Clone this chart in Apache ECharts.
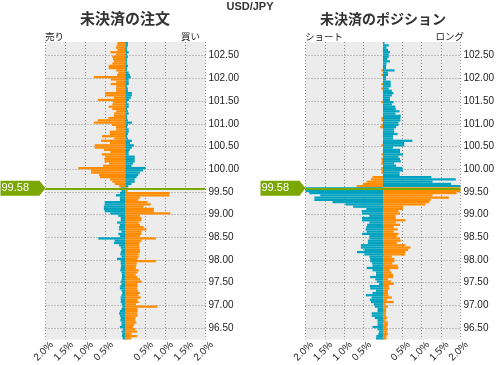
<!DOCTYPE html>
<html><head><meta charset="utf-8">
<script src="https://cdn.jsdelivr.net/npm/echarts@6/dist/echarts.min.js"></script>
<style>html,body{margin:0;padding:0;background:#fff}#c{width:497px;height:365px}</style>
</head><body><div id="c"></div>
<script>
// ---- data ----
const pairName = 'USD/JPY';
const priceNow = 99.58;
const step = 0.05;
// price buckets (lower bound), top to bottom: 102.75 ... 96.25
const levels = [];
for (let i = 0; i < 131; i++) levels.push(((10275 - 5 * i) / 100).toFixed(2));
const yTickLabels = ['102.50','102.00','101.50','101.00','100.50','100.00','99.50','99.00','98.50','98.00','97.50','97.00','96.50'];
const xTicks = [-2, -1.5, -1, -0.5, 0, 0.5, 1, 1.5, 2];

// open orders (% , top to bottom)
const ordersSell = [
0.20,0.22,0.24,0.20,0.38,0.24,0.33,0.31,0.29,0.33,
0.42,0.42,0.23,0.18,0.21,0.79,0.37,0.23,0.37,0.23,
0.24,0.23,0.51,0.51,0.29,0.69,0.31,0.33,0.42,0.33,
0.23,0.29,0.29,0.43,0.69,0.79,0.34,0.24,0.23,0.39,
0.39,0.59,0.28,0.61,0.39,0.77,0.77,0.54,0.38,0.59,
0.51,0.53,0.52,0.41,0.56,1.18,0.86,0.86,0.66,0.64,
0.39,0.33,0.27,0.16,0.12,0.10,0.14,0.24,0.14,0.14,
0.52,0.52,0.54,0.54,0.52,0.38,0.18,0.12,0.12,0.21,
0.14,0.16,0.16,0.10,0.18,0.14,0.68,0.27,0.29,0.16,
0.12,0.10,0.12,0.13,0.10,0.21,0.12,0.12,0.11,0.12,
0.13,0.10,0.09,0.09,0.10,0.12,0.10,0.13,0.14,0.10,
0.08,0.10,0.12,0.12,0.12,0.09,0.08,0.10,0.14,0.16,
0.14,0.12,0.13,0.10,0.10,0.14,0.07,0.10,0.08,0.09,0.07];
const ordersBuy = [
0.06,0.06,0.04,0.04,0.08,0.04,0.06,0.04,0.04,0.04,
0.06,0.04,0.04,0.08,0.11,0.13,0.08,0.08,0.08,0.04,
0.06,0.06,0.16,0.16,0.13,0.09,0.04,0.08,0.08,0.04,
0.06,0.08,0.04,0.04,0.06,0.16,0.06,0.04,0.08,0.08,
0.06,0.04,0.06,0.16,0.11,0.21,0.16,0.11,0.08,0.08,
0.23,0.23,0.23,0.19,0.15,0.50,0.44,0.36,0.32,0.28,
0.23,0.23,0.15,0.07,0.05,0.05,1.10,1.10,0.36,0.32,
0.55,0.63,0.45,0.71,0.71,1.12,0.36,0.40,0.40,0.33,
0.36,0.45,0.52,0.40,0.40,0.36,0.76,0.40,0.35,0.34,
0.35,0.36,0.36,0.33,0.33,0.30,0.76,0.28,0.27,0.26,
0.33,0.30,0.25,0.30,0.36,0.40,0.30,0.30,0.29,0.31,
0.36,0.32,0.38,0.30,0.33,0.26,0.80,0.30,0.30,0.29,
0.30,0.25,0.24,0.27,0.22,0.19,0.24,0.29,0.15,0.29,0.14];

// open positions (% , top to bottom)
const posShort = [
0,0,0,0,0,0,0,0,0,0,
0,0,0.04,0,0.04,0,0,0,0.04,0,
0.04,0,0,0,0,0,0.04,0,0,0,
0,0,0,0.04,0.04,0,0.04,0.07,0,0,
0,0,0,0,0,0.04,0,0,0,0.04,
0,0.04,0.03,0.04,0,0.04,0.04,0.04,0,0.27,
0.31,0.42,0.52,0.68,2.0,2.0,1.90,1.62,1.77,1.77,
1.30,0.97,0.77,0.43,0.55,0.54,0.35,0.54,0.54,0.35,
0.41,0.43,0.45,0.42,0.54,0.35,0.35,0.39,0.39,0.57,
0.57,0.48,0.67,0.48,0.35,0.33,0.33,0.28,0.27,0.42,
0.27,0.18,0.18,0.33,0.20,0.16,0.10,0.34,0.33,0.18,
0.27,0.44,0.29,0.34,0.31,0.24,0.21,0.14,0.14,0.29,
0.29,0.21,0.14,0.14,0.14,0.27,0.14,0.10,0.12,0.17,0.18];
const posLong = [
0.04,0.15,0.09,0.13,0.18,0.15,0.15,0.11,0.18,0.09,
0.08,0.08,0.30,0.13,0.13,0.08,0.08,0.20,0.20,0.20,
0.15,0.23,0.27,0.23,0.18,0.18,0.27,0.23,0.32,0.33,
0.43,0.32,0.46,0.45,0.45,0.40,0.40,0.34,0.29,0.29,
0.38,0.26,0.26,0.76,0.55,0.55,0.26,0.44,0.44,0.52,
0.40,0.44,0.46,0.29,0.34,0.50,0.52,0.43,0.43,1.25,
1.88,1.28,1.76,2.0,2.0,2.0,1.90,1.28,1.70,1.23,
1.19,1.10,0.52,0.52,0.40,0.44,0.33,0.33,0.58,0.33,
0.44,0.28,0.38,0.28,0.40,0.36,0.44,0.46,0.36,0.58,
0.71,0.65,0.58,0.57,0.23,0.29,0.30,0.24,0.38,0.40,
0.18,0.22,0.26,0.26,0.13,0.21,0.28,0.15,0.17,0.13,
0.13,0.14,0.23,0.11,0.28,0.07,0.13,0.08,0.08,0.08,
0.08,0.11,0.06,0.13,0.13,0.10,0.13,0.10,0.13,0.09,0.09];

// ---- style ----
const ORANGE = '#ff8c00', TEAL = '#00a3bf', GREEN = '#7aa700', BG = '#ececec', GRIDC = '#8e8e8e';
const FONT = '"Liberation Sans", Arial, sans-serif';
const JFONT = '"Noto Sans CJK JP", sans-serif';
const priceIdx = levels.findIndex(l => +l + step / 2 < priceNow);
const tickVals = yTickLabels.map(Number);

const grids = [
  {left: 45.5, top: 42, width: 160, height: 301},
  {left: 305.5, top: 42, width: 160, height: 301}
].map(g => Object.assign(g, {show: true, backgroundColor: BG, borderWidth: 0}));

const dotted = {color: GRIDC, width: 1, type: [1, 2]};

const xAxis = [0, 1].map(g => ({
  type: 'value', gridIndex: g, min: xTicks[0], max: xTicks[xTicks.length - 1], interval: 0.5,
  axisLine: {show: false}, axisTick: {show: false},
  splitLine: {show: true, lineStyle: dotted},
  axisLabel: {rotate: 45, align: 'center', verticalAlign: 'middle', padding: [0, 5, 0, 0],
    fontSize: 10, color: '#222', fontFamily: FONT, margin: 10,
    formatter: v => v === 0 ? '' : Math.abs(v).toFixed(1) + '%'}
}));

// hidden category axes carry the bars; value axes carry price ticks, grid lines and the price line
const yAxis = [0, 1].map(g => ({
  type: 'category', gridIndex: g, data: levels, inverse: true, show: false
})).concat([0, 1].map(g => ({
  type: 'value', gridIndex: g, position: 'right',
  min: +levels[levels.length - 1], max: +levels[0] + step,
  axisLine: {show: false},
  axisTick: {show: false, customValues: tickVals},
  splitLine: {show: true, lineStyle: dotted},
  axisLabel: {customValues: tickVals, fontSize: 10, color: '#222', fontFamily: FONT, margin: 3,
    formatter: v => v.toFixed(2)}
})));

function panel(g, leftVals, rightVals) {
  const common = {type: 'bar', xAxisIndex: g, yAxisIndex: g, barGap: '-100%', barCategoryGap: '0%', silent: true, z: 2};
  return [
    Object.assign({}, common, {data: leftVals.map(v => -v),
      itemStyle: {color: p => p.dataIndex < priceIdx ? ORANGE : TEAL}}),
    Object.assign({}, common, {data: rightVals,
      itemStyle: {color: p => p.dataIndex < priceIdx ? TEAL : ORANGE}}),
    {type: 'line', xAxisIndex: g, yAxisIndex: 2 + g, data: [[xTicks[0], priceNow]], symbol: 'none',
      lineStyle: {opacity: 0}, silent: true, z: 5,
      markLine: {symbol: ['none', 'none'], silent: true, label: {show: false},
        lineStyle: {color: GREEN, width: 2, type: 'solid'}, data: [{yAxis: priceNow}]},
      markPoint: {silent: true, symbol: 'path://M0,0L39,0L45,7L39,14L0,14Z', symbolSize: [45, 15],
        symbolOffset: [-22.5, 0], itemStyle: {color: GREEN},
        label: {show: true, position: 'insideLeft', distance: 1, color: '#fff', fontSize: 11,
          fontFamily: FONT, formatter: priceNow.toFixed(2)},
        data: [{coord: [xTicks[0], priceNow]}]}}
  ];
}

const txt = (text, x, y, font, align, fill) => ({type: 'text', x: x, y: y, silent: true,
  style: {text: text, font: font, fill: fill || '#222', align: align, verticalAlign: 'middle'}});

const chart = echarts.init(document.getElementById('c'), null, {renderer: 'canvas'});
chart.setOption({
  animation: false,
  grid: grids, xAxis: xAxis, yAxis: yAxis,
  series: panel(0, ordersSell, ordersBuy).concat(panel(1, posShort, posLong)),
  graphic: [
    txt(pairName, 250, 7, 'bold 11px ' + FONT, 'center', '#333'),
    txt('未決済の注文', 125, 18.5, 'bold 15px ' + JFONT, 'center', '#333'),
    txt('未決済のポジション', 383, 18.5, 'bold 14px ' + JFONT, 'center', '#333'),
    txt('売り', 45, 36, '9.5px ' + JFONT, 'left'),
    txt('買い', 200, 36, '9.5px ' + JFONT, 'right'),
    txt('ショート', 305, 36, '9.5px ' + JFONT, 'left'),
    txt('ロング', 464, 36, '9.5px ' + JFONT, 'right')
  ]
});
</script></body></html>
